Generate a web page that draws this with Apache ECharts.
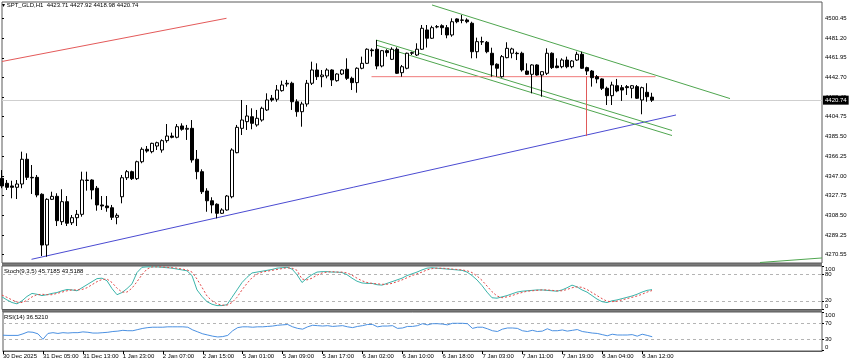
<!DOCTYPE html>
<html><head><meta charset="utf-8">
<script src="https://cdn.jsdelivr.net/npm/echarts@6/dist/echarts.min.js"></script>
<style>html,body{margin:0;padding:0;background:#fff}#c{width:850px;height:364px}</style>
</head><body><div id="c"></div>
<script>
const timeLabels = ['30 Dec 2025','31 Dec 05:00','31 Dec 13:00','1 Jan 23:00','2 Jan 07:00','2 Jan 15:00','5 Jan 01:00','5 Jan 09:00','5 Jan 17:00','6 Jan 02:00','6 Jan 10:00','6 Jan 18:00','7 Jan 03:00','7 Jan 11:00','7 Jan 19:00','8 Jan 04:00','8 Jan 12:00'];
const labelEvery = 8;
const slotCount = 165;
const priceTicks = [4270.55,4289.25,4308.50,4327.75,4347.00,4366.25,4385.50,4404.75,4423.45,4442.70,4461.95,4481.20,4500.45];
const priceMin = 4262.2, priceMax = 4516.3;
const lastPrice = 4420.74;
const ohlcTitle = 'SPT_GLD,H1  4423.71 4427.92 4418.98 4420.74';
const stochTitle = 'Stoch(9,3,5) 45.7185 43.5188';
const rsiTitle = 'RSI(14) 36.5210';
const stochLevels = [20,80];
const rsiLevels = [30,70];
const panelTop = [100];
const panelBottom = [0];

const open = [4344.6,4339.8,4337.2,4335.9,4339.1,4363.2,4345.6,4345.6,4329.1,4279.7,
4324.2,4327.1,4302.4,4321.9,4301.4,4306.3,4309.6,4343.0,4343.0,4335.0,
4318.7,4317.7,4316.0,4306.7,4326.7,4345.2,4351.1,4344.3,4360.8,4372.9,
4370.6,4376.1,4372.2,4381.3,4385.8,4384.6,4395.6,4392.4,4393.3,4363.2,
4351.1,4332.3,4322.8,4319.4,4310.6,4313.8,4326.7,4369.6,4393.3,4399.8,
4404.6,4396.6,4401.4,4411.2,4422.6,4421.6,4430.0,4436.5,4437.2,4419.2,
4409.5,4417.0,4437.2,4450.1,4443.6,4444.3,4450.1,4439.7,4446.2,4450.8,
4442.0,4437.8,4451.8,4456.6,4469.6,4470.3,4454.0,4468.9,4460.5,4470.3,
4447.5,4451.8,4466.4,4464.7,4470.3,4489.1,4481.0,4492.3,4493.2,4491.3,
4484.2,4499.8,4498.8,4498.8,4495.6,4467.9,4477.7,4477.1,4466.4,4455.7,
4443.6,4462.1,4466.4,4466.4,4466.4,4449.1,4445.9,4455.0,4445.2,4446.9,
4466.4,4454.0,4453.3,4459.8,4453.3,4459.8,4465.4,4452.4,4449.1,4443.6,
4441.4,4432.3,4425.1,4434.8,4432.9,4433.9,4432.3,4433.9,4420.9,4428.4,
4423.71];
const high = [4352.7,4343.0,4342.3,4343.0,4370.6,4369.0,4357.6,4347.9,4330.1,4325.2,
4331.6,4330.1,4334.0,4327.4,4308.9,4313.8,4351.1,4351.1,4343.7,4337.2,
4327.4,4327.4,4318.7,4310.6,4347.9,4352.7,4352.1,4361.8,4374.8,4376.1,
4379.3,4380.3,4382.6,4397.5,4389.1,4397.5,4398.2,4396.6,4401.4,4372.2,
4353.4,4335.0,4326.2,4320.3,4315.5,4328.4,4373.9,4396.6,4420.9,4416.0,
4412.8,4411.2,4414.4,4427.4,4425.8,4435.5,4439.7,4440.4,4438.7,4421.6,
4419.2,4440.4,4458.2,4456.6,4450.1,4451.8,4450.8,4446.9,4450.8,4461.5,
4443.6,4452.7,4463.1,4471.2,4471.2,4479.3,4469.6,4470.3,4472.2,4472.2,
4455.0,4467.0,4467.9,4476.1,4493.9,4493.9,4493.2,4493.9,4494.6,4493.9,
4500.4,4500.4,4503.7,4500.4,4497.1,4481.6,4482.5,4478.3,4471.8,4456.6,
4464.7,4477.1,4471.8,4467.9,4467.9,4456.6,4455.7,4455.7,4448.5,4471.2,
4467.3,4461.5,4461.5,4463.1,4459.8,4467.9,4467.9,4453.3,4450.1,4445.2,
4442.0,4433.9,4438.7,4441.4,4435.5,4435.5,4435.5,4435.5,4433.9,4437.2,
4427.92];
const low = [4335.0,4333.3,4325.2,4324.5,4335.0,4343.0,4329.4,4326.2,4269.0,4268.3,
4323.5,4298.2,4299.2,4298.2,4299.2,4298.2,4307.3,4332.6,4324.2,4313.1,
4313.8,4312.1,4304.1,4299.9,4320.3,4343.0,4343.0,4343.0,4359.3,4369.6,
4369.0,4372.2,4369.6,4379.3,4383.6,4383.6,4391.0,4382.0,4359.9,4343.7,
4329.4,4312.1,4310.6,4305.7,4309.9,4313.1,4325.2,4369.0,4386.8,4391.7,
4392.4,4394.9,4399.8,4410.2,4419.2,4419.2,4429.0,4433.9,4411.2,4404.6,
4394.9,4414.4,4435.5,4440.4,4433.3,4442.0,4434.5,4438.7,4445.2,4440.4,
4430.6,4428.0,4450.8,4455.9,4463.1,4450.8,4452.7,4463.1,4459.8,4446.2,
4443.6,4450.8,4464.7,4463.7,4469.6,4472.0,4480.3,4490.7,4484.2,4481.0,
4482.5,4495.6,4495.6,4495.6,4461.5,4461.5,4474.5,4466.4,4443.6,4443.6,
4442.6,4461.5,4461.5,4459.8,4448.5,4445.2,4427.4,4444.6,4424.1,4445.2,
4451.1,4451.8,4451.8,4451.8,4451.8,4458.9,4451.1,4445.2,4433.9,4437.2,
4430.6,4416.0,4416.0,4428.4,4420.0,4425.8,4422.6,4421.9,4407.0,4419.2,
4418.98];
const close = [4337.2,4335.9,4335.9,4339.1,4363.2,4345.6,4345.1,4328.4,4279.7,4324.2,
4327.1,4303.4,4321.9,4300.9,4306.3,4309.6,4343.0,4342.5,4333.3,4318.7,
4317.7,4316.0,4306.7,4308.6,4345.2,4351.1,4344.3,4360.8,4372.9,4371.2,
4378.7,4379.3,4381.3,4385.8,4384.6,4394.9,4392.4,4393.3,4362.5,4351.1,
4331.6,4322.8,4318.7,4310.6,4313.8,4327.4,4372.2,4394.3,4401.4,4405.3,
4398.2,4403.1,4412.8,4420.9,4420.9,4430.6,4435.5,4437.2,4419.2,4409.5,
4417.0,4437.2,4450.1,4443.6,4445.2,4450.1,4440.4,4446.2,4450.1,4442.0,
4437.8,4451.8,4456.6,4470.3,4468.9,4454.0,4468.9,4467.0,4470.3,4446.9,
4453.3,4466.4,4467.0,4470.3,4490.7,4481.0,4491.3,4492.0,4491.3,4484.2,
4497.1,4497.1,4498.5,4497.1,4467.9,4477.7,4477.4,4467.9,4455.0,4451.8,
4463.1,4471.2,4470.6,4466.0,4450.1,4445.9,4455.0,4445.2,4448.5,4466.4,
4452.4,4452.4,4459.8,4453.3,4458.9,4465.4,4451.8,4449.1,4442.6,4441.4,
4432.3,4425.1,4435.5,4429.7,4430.6,4432.9,4434.8,4422.6,4432.9,4424.1,
4420.74];

const stochK = [29,22,16,13,20,30,37,35,32,34,37,39,43,46,45,43,50,57,64,71,
72,66,48,34,39,48,59,85,97,98,98,98,97,96,95,93,91,89,78,45,
30,18,12,9,9,11,28,45,62,74,84,86,88,90,92,95,96,97,93,80,
62,72,80,86,87,87,86,86,85,80,72,65,61,60,60,57,56,60,64,68,
72,78,82,86,91,95,96,95,94,93,92,91,90,86,78,68,55,40,27,26,
29,32,36,40,42,43,44,45,45,44,43,42,45,50,56,52,45,40,32,24,
18,16,20,22,25,28,31,35,40,44,45.72];
const stochD = [33,28,22,17,16,21,29,34,35,34,34,37,40,43,45,45,46,50,57,64,
69,70,62,49,40,40,49,64,80,93,98,98,98,97,96,95,93,91,86,70,
51,31,20,13,10,10,16,28,45,60,73,81,86,88,90,92,94,96,95,90,
70,68,72,79,84,86,87,86,86,84,79,72,66,62,60,59,58,58,60,64,
68,73,78,82,86,91,94,95,95,94,93,92,91,89,85,77,67,54,41,31,
27,29,32,36,39,42,43,44,45,45,44,43,43,46,50,52,51,46,39,32,
25,19,18,19,22,25,28,31,35,40,43.52];
const rsi = [40.5,40,40,40,44,49,48,44,30,45,47,45,47,46,47,47,49,48,46,46,
47,48,50,51,53,52,52,55,58,60,61,61,61,62,62,62,62,61,54,49,
44,41,38,36,37,40,52,60,62,62,61,62,62,63,64,66,67,68,62,58,
56,62,66,65,64,65,63,64,65,62,60,63,65,68,68,62,64,64,65,58,
59,63,63,65,70,67,70,70,69,67,71,71,71,70,58,61,61,57,52,50,
56,59,59,58,52,50,53,50,51,57,52,52,54,51,53,55,50,48,46,45,
42,39,43,41,41,41,42,38,43,40,36.52];

// trendlines in (bar index, price)
const lineRedTop = [[0,4458.4],[44.9,4500.45]];
const lineBlue = [[5.9,4265.8],[134.8,4406.3]];
const lineGreenUpper = [[86,4513.4],[145.6,4422.3]];
const lineGreenLowA = [[74.8,4479.3],[134,4391.2]];
const lineGreenLowB = [[74.8,4474.4],[134,4386.3]];
const lineGreenSmall = [[151.6,4262.7],[164,4267.1]];
const lineRedHoriz = [[73.9,4443.6],[130.7,4443.6]];
const lineRedVert = [[116.9,4443.6],[116.9,4385.8]];

const FONT = 'Liberation Sans';
const FS = 6;
const categories = [];
for (let i = 0; i < slotCount; i++) {
  const k = i / labelEvery;
  categories.push(i % labelEvery === 0 && k < timeLabels.length ? timeLabels[k] : '');
}
const candles = open.map((o, i) => [o, close[i], low[i], high[i]]);

const chart = echarts.init(document.getElementById('c'), null, {renderer: 'canvas'});

function tline(data, color, width) {
  return {type: 'line', xAxisIndex: 3, yAxisIndex: 0, data: data, symbol: 'none', silent: true,
    lineStyle: {color: color, width: width || 1}, z: 3, clip: true, animation: false};
}
const frame = '#5a5a5a';
const gridBase = {left: 2, width: 820, show: true, borderColor: frame, borderWidth: 1, backgroundColor: '#fff'};
const hiddenCat = (g) => ({type: 'category', gridIndex: g, data: categories, boundaryGap: false,
  axisLine: {show: false}, axisTick: {show: false}, axisLabel: {show: false}, splitLine: {show: false}});
// side label axis: lo/hi slightly padded so the labelled value is never the axis extreme
const sideAxis = (g, vals, lo, hi, va) => ({type: 'value', gridIndex: g, position: 'right', min: lo, max: hi, z: 20,
  axisLine: {show: false}, splitLine: {show: false},
  axisTick: {show: true, length: 2, customValues: vals, lineStyle: {color: '#000'}},
  axisLabel: {show: true, customValues: vals, fontSize: FS, lineHeight: 6, color: '#000', margin: 3, fontFamily: FONT,
    verticalAlign: va, hideOverlap: false}});

const option = {
  animation: false,
  backgroundColor: '#ffffff',
  textStyle: {fontFamily: FONT},
  title: [
    {text: '\u25BE ' + ohlcTitle, left: 2, top: 2, padding: 0, textStyle: {fontSize: FS, fontWeight: 'normal', color: '#000', fontFamily: FONT}},
    {text: stochTitle, left: 4, top: 268, padding: 0, textStyle: {fontSize: FS, fontWeight: 'normal', color: '#000', fontFamily: FONT}},
    {text: rsiTitle, left: 4, top: 314, padding: 0, textStyle: {fontSize: FS, fontWeight: 'normal', color: '#000', fontFamily: FONT}}
  ],
  graphic: [
    {type: 'rect', shape: {x: 2, y: 263, width: 820, height: 3}, style: {fill: '#7a7a7a'}, z: -1},
    {type: 'rect', shape: {x: 2, y: 309.5, width: 820, height: 2.5}, style: {fill: '#7a7a7a'}, z: -1}
  ],
  grid: [
    Object.assign({top: 2, height: 261}, gridBase),
    Object.assign({top: 266, height: 43.5}, gridBase),
    Object.assign({top: 312, height: 39}, gridBase)
  ],
  xAxis: [
    hiddenCat(0),
    hiddenCat(1),
    {type: 'category', gridIndex: 2, data: categories, boundaryGap: false,
      axisLine: {show: true, lineStyle: {color: frame}},
      axisTick: {show: true, length: 3, lineStyle: {color: '#000'}, interval: (i, v) => v !== ''},
      axisLabel: {show: true, align: 'left', margin: 2, fontSize: FS, color: '#000', fontFamily: FONT,
        interval: (i, v) => v !== ''},
      splitLine: {show: false}},
    {type: 'value', gridIndex: 0, min: 0, max: slotCount - 1, show: false}
  ],
  yAxis: [
    {type: 'value', gridIndex: 0, position: 'right', min: priceMin, max: priceMax,
      axisLine: {show: false}, splitLine: {show: false},
      axisTick: {show: true, length: 2, customValues: priceTicks, lineStyle: {color: '#000'}},
      axisLabel: {show: true, customValues: priceTicks, formatter: v => v.toFixed(2), fontSize: FS, color: '#000', margin: 3, fontFamily: FONT,
        showMinLabel: true, showMaxLabel: true}},
    {type: 'value', gridIndex: 1, position: 'right', min: 0, max: 100, z: 20,
      axisLine: {show: false}, splitLine: {show: false},
      axisTick: {show: true, length: 2, customValues: stochLevels, lineStyle: {color: '#000'}},
      axisLabel: {show: true, customValues: stochLevels, fontSize: FS, lineHeight: 5, color: '#000', margin: 3, fontFamily: FONT}},
    {type: 'value', gridIndex: 2, position: 'right', min: 0, max: 100, z: 20,
      axisLine: {show: false}, splitLine: {show: false},
      axisTick: {show: true, length: 2, customValues: rsiLevels, lineStyle: {color: '#000'}},
      axisLabel: {show: true, customValues: rsiLevels, fontSize: FS, lineHeight: 5, color: '#000', margin: 3, fontFamily: FONT}},
    sideAxis(1, panelTop, 0, 101, 'top'),
    sideAxis(1, panelBottom, -1, 100, 'bottom'),
    sideAxis(2, panelTop, 0, 101, 'top'),
    sideAxis(2, panelBottom, -1, 100, 'bottom')
  ],
  series: [
    {type: 'candlestick', xAxisIndex: 0, yAxisIndex: 0, data: candles, barWidth: 3, z: 4,
      itemStyle: {color: '#ffffff', color0: '#000000', borderColor: '#000000', borderColor0: '#000000', borderWidth: 1},
      markLine: {silent: true, symbol: 'none', z: 2,
        lineStyle: {color: '#cfcfcf', width: 1, type: 'solid'},
        label: {show: true, position: 'end', formatter: () => lastPrice.toFixed(2), color: '#fff', backgroundColor: '#000',
          fontSize: FS, fontFamily: FONT, padding: [2, 2, 1, 2], distance: 1},
        data: [{yAxis: lastPrice}]}},
    tline(lineRedTop, '#e45a5a'),
    tline(lineBlue, '#4b4bd2'),
    tline(lineGreenUpper, '#4fa64f'),
    tline(lineGreenLowA, '#4fa64f'),
    tline(lineGreenLowB, '#4fa64f'),
    tline(lineGreenSmall, '#4fa64f'),
    tline(lineRedHoriz, '#f07a7a'),
    tline(lineRedVert, '#e05a5a'),
    {type: 'line', xAxisIndex: 1, yAxisIndex: 1, data: stochK, symbol: 'none', z: 3,
      lineStyle: {color: '#3cb4aa', width: 1},
      markLine: {silent: true, symbol: 'none', label: {show: false}, z: 1,
        lineStyle: {color: '#b4b4b4', type: [3, 3], width: 1},
        data: stochLevels.map(v => ({yAxis: v}))}},
    {type: 'line', xAxisIndex: 1, yAxisIndex: 1, data: stochD, symbol: 'none', z: 3,
      lineStyle: {color: '#e24a4a', width: 1, type: [2, 2]}},
    {type: 'line', xAxisIndex: 2, yAxisIndex: 2, data: rsi, symbol: 'none', z: 3,
      lineStyle: {color: '#4a90e2', width: 1},
      markLine: {silent: true, symbol: 'none', label: {show: false}, z: 1,
        lineStyle: {color: '#b4b4b4', type: [3, 3], width: 1},
        data: rsiLevels.map(v => ({yAxis: v}))}}
  ]
};
chart.setOption(option);
</script>
</body></html>
